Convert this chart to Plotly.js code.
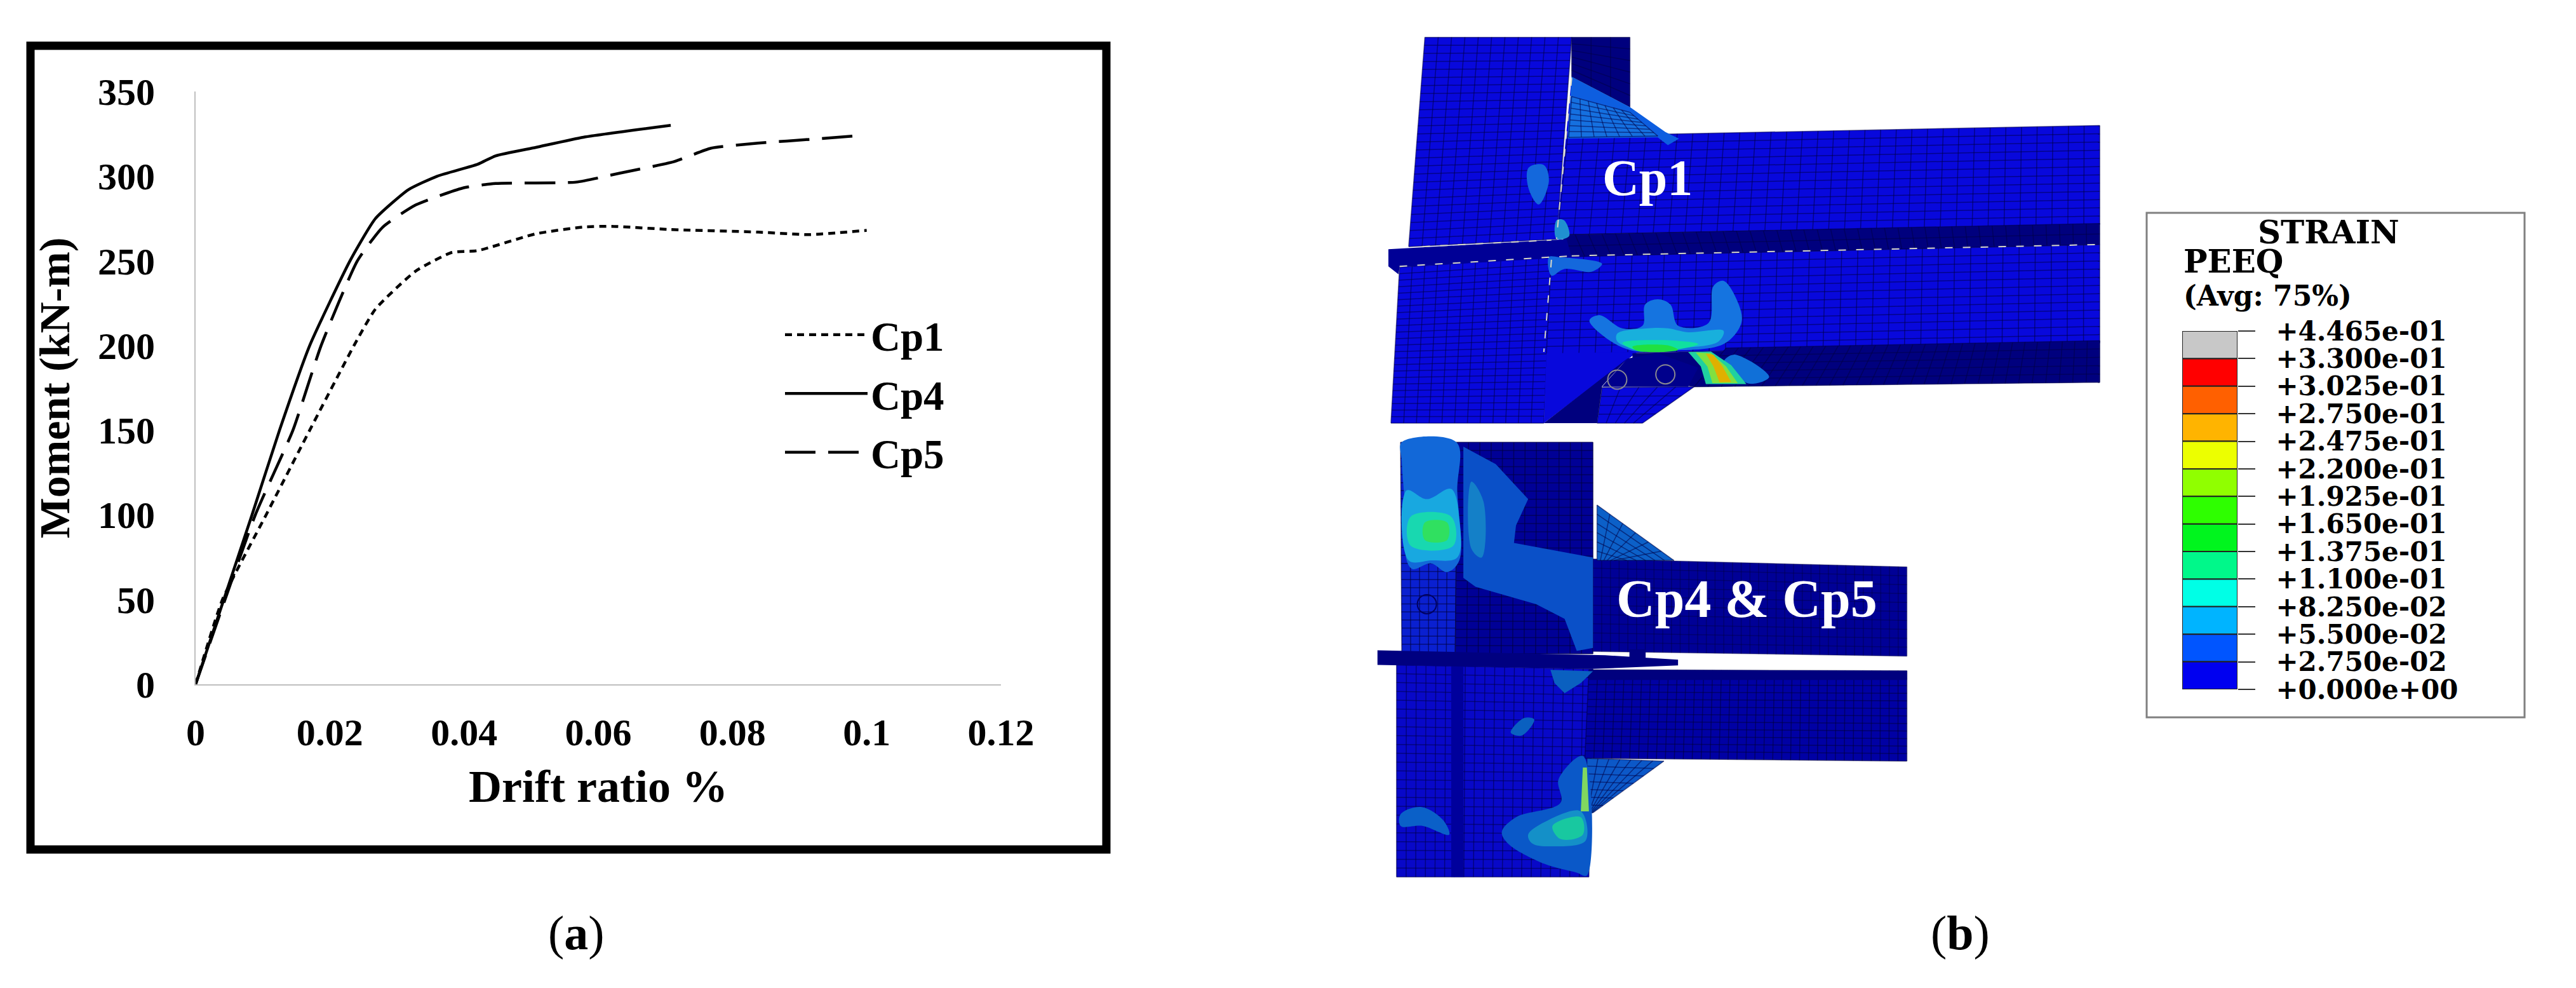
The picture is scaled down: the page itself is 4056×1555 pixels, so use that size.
<!DOCTYPE html>
<html>
<head>
<meta charset="utf-8">
<script src="https://cdn.plot.ly/plotly-3.0.1.min.js"></script>
<style>html,body{margin:0;padding:0;background:#fff}</style>
</head>
<body>
<div id="plot" style="width:4056px;height:1555px"></div>
<script>
// page size
const W = 4056, H = 1555;
const serif = "Liberation Serif";
const slab = "DejaVu Serif";

// (a) moment vs drift ratio
const cp1X = [0, 0.004, 0.0105, 0.017, 0.0236, 0.0268, 0.0328, 0.0382, 0.042, 0.0507, 0.0578, 0.062, 0.0708, 0.0838, 0.0914, 0.1];
const cp1Y = [0, 50, 100, 150, 200, 221.6, 244, 255, 256, 266, 270, 270.4, 268.5, 267, 265.5, 268];
const cp4X = [0, 0.0084, 0.0125, 0.017, 0.023, 0.0268, 0.0317, 0.036, 0.042, 0.0447, 0.0507, 0.0578, 0.0708];
const cp4Y = [0, 100, 150, 200, 250, 275, 292, 300, 307, 312, 317, 323, 330];
const cp5X = [0, 0.0089, 0.0145, 0.0187, 0.0241, 0.0279, 0.0328, 0.0398, 0.0447, 0.0567, 0.063, 0.0713, 0.0768, 0.0838, 0.0925, 0.099];
const cp5Y = [0, 100, 150, 200, 250, 270, 283, 293, 295.7, 296.5, 301.6, 308.6, 316.5, 319.5, 322, 324];

// (b) contour legend, top to bottom
const peeqLabels = ["+4.465e-01", "+3.300e-01", "+3.025e-01", "+2.750e-01", "+2.475e-01", "+2.200e-01", "+1.925e-01",
  "+1.650e-01", "+1.375e-01", "+1.100e-01", "+8.250e-02", "+5.500e-02", "+2.750e-02", "+0.000e+00"];
const peeqColors = ["#c8c8c8", "#ff0000", "#ff6000", "#ffb400", "#ecff00", "#90ff00", "#2eff00",
  "#00f51e", "#00f88a", "#00ffe6", "#00b4ff", "#0055ff", "#0000f0"];

const traces = [];

function curve(name, x, y, dash) {
  traces.push({
    type: "scatter", mode: "lines", name: name, x: x, y: y, legendgroup: name,
    line: { color: "#000", width: 4.5, dash: dash, shape: "spline", smoothing: 0.5 },
    hoverinfo: "skip"
  });
}
curve("Cp1", cp1X, cp1Y, "11px,8px");
curve("Cp4", cp4X, cp4Y, "solid");
curve("Cp5", cp5X, cp5Y, "48px,20px");

// the two FE pictures were measured on crops, these turn crop points into page pixels
const T = p => [2100 + p[0] * 0.7972, 40 + p[1] * 0.4145];
const B = p => [2100 + p[0] * 0.6378, 680 + p[1] * 0.4592];

function blob(f, pts, color, smooth) {
  const q = pts.map(f);
  traces.push({
    type: "scatter", mode: "lines", xaxis: "x2", yaxis: "y2", showlegend: false, hoverinfo: "skip",
    x: q.map(p => p[0]).concat(q[0][0]), y: q.map(p => p[1]).concat(q[0][1]),
    fill: "toself", fillcolor: color,
    line: { width: 0, color: color, shape: smooth ? "spline" : "linear" }
  });
}
// quad with a mesh drawn over it: corners TL, TR, BR, BL
function quad(f, c, color, nu, nv, meshColor) {
  blob(f, c, color);
  const q = c.map(f);
  const lerp = (a, b, t) => [a[0] + (b[0] - a[0]) * t, a[1] + (b[1] - a[1]) * t];
  const xs = [], ys = [];
  for (let i = 0; i <= nu; i++) {
    const a = lerp(q[0], q[1], i / nu), b = lerp(q[3], q[2], i / nu);
    xs.push(a[0], b[0], null); ys.push(a[1], b[1], null);
  }
  for (let j = 0; j <= nv; j++) {
    const a = lerp(q[0], q[3], j / nv), b = lerp(q[1], q[2], j / nv);
    xs.push(a[0], b[0], null); ys.push(a[1], b[1], null);
  }
  traces.push({
    type: "scatter", mode: "lines", xaxis: "x2", yaxis: "y2", showlegend: false, hoverinfo: "skip",
    x: xs, y: ys, line: { color: meshColor || "rgba(0,0,70,0.55)", width: 1.5 }
  });
}
function seam(f, pts) {
  const q = pts.map(f);
  traces.push({
    type: "scatter", mode: "lines", xaxis: "x2", yaxis: "y2", showlegend: false, hoverinfo: "skip",
    x: q.map(p => p[0]), y: q.map(p => p[1]),
    line: { color: "#d8d8c8", width: 2, dash: "12px,16px" }
  });
}
function holes(f, pts, size, color) {
  const q = pts.map(f);
  traces.push({
    type: "scatter", mode: "markers", xaxis: "x2", yaxis: "y2", showlegend: false, hoverinfo: "skip",
    x: q.map(p => p[0]), y: q.map(p => p[1]),
    marker: { symbol: "circle-open", size: size, color: color, line: { width: 2, color: color } }
  });
}
const web = "#0808dc", navy = "#00007e", deep = "#000096", pale = "#1468dc";

// Cp1 joint
quad(T, [[180, 45], [470, 45], [440, 812], [148, 840]], web, 11, 26);
quad(T, [[470, 45], [585, 45], [585, 310], [470, 195]], navy, 3, 6);
blob(T, [[470, 195], [470, 430], [445, 800], [440, 800]], web);
quad(T, [[462, 420], [1513, 380], [1513, 755], [442, 795]], web, 34, 12);
blob(T, [[470, 195], [585, 310], [655, 405], [682, 430], [660, 455], [640, 425], [462, 430]], "#0d5ee0");
quad(T, [[470, 270], [585, 330], [640, 420], [464, 425]], "#1570e0", 7, 7);
quad(T, [[450, 795], [1513, 752], [1513, 832], [470, 880]], navy, 40, 2);
quad(T, [[130, 918], [430, 880], [415, 1510], [113, 1510]], web, 12, 24);
quad(T, [[430, 880], [1513, 832], [1513, 1205], [420, 1250]], web, 34, 12);
blob(T, [[420, 1245], [600, 1240], [415, 1510]], web);
blob(T, [[590, 1245], [1513, 1197], [1513, 1355], [712, 1372], [590, 1340]], navy);
quad(T, [[775, 1225], [1513, 1197], [1513, 1355], [712, 1372]], navy, 30, 5);
blob(T, [[415, 1510], [580, 1265], [530, 1370], [520, 1510]], navy);
quad(T, [[530, 1375], [712, 1372], [610, 1510], [520, 1510]], web, 5, 4);
blob(T, [[580, 1265], [640, 1245], [720, 1300], [700, 1372], [530, 1372]], "#00008c");
blob(T, [[108, 850], [460, 812], [470, 880], [130, 918], [128, 945], [108, 915]], deep);
blob(T, [[385, 540], [415, 530], [425, 590], [405, 680], [385, 620]], pale, true);
blob(T, [[440, 740], [455, 740], [465, 800], [440, 810]], "#2090d0", true);
blob(T, [[425, 880], [445, 880], [530, 905], [510, 935], [455, 925], [430, 950]], pale, true);
blob(T, [[505, 1120], [525, 1100], [570, 1150], [610, 1140], [615, 1060], [640, 1040], [665, 1060], [680, 1140], [740, 1130],
  [750, 990], [770, 970], [800, 1060], [805, 1130], [770, 1210], [650, 1235], [590, 1235], [540, 1190]], "#1574e0", true);
blob(T, [[560, 1170], [620, 1150], [660, 1150], [700, 1165], [770, 1160], [760, 1200], [680, 1225], [600, 1228], [560, 1200]], "#18b0dc", true);
blob(T, [[570, 1205], [650, 1195], [720, 1210], [680, 1230], [595, 1232]], "#10e0a0", true);
blob(T, [[590, 1220], [660, 1215], [680, 1232], [600, 1236]], "#20e040", true);
blob(T, [[790, 1250], [860, 1335], [820, 1360], [770, 1280]], "#1070d8", true);
blob(T, [[700, 1240], [745, 1238], [785, 1290], [815, 1362], [735, 1362], [725, 1295]], "#20d0a0");
blob(T, [[715, 1242], [745, 1244], [775, 1295], [798, 1358], [748, 1358], [738, 1295]], "#80e040");
blob(T, [[735, 1246], [750, 1250], [768, 1295], [785, 1354], [762, 1355], [750, 1295]], "#e0b000");
holes(T, [[560, 1345], [655, 1325]], 30, "#8a8a90");
seam(T, [[470, 200], [440, 810]]);
seam(T, [[175, 840], [430, 815]]);
seam(T, [[130, 915], [470, 875]]);
seam(T, [[470, 875], [1513, 832]]);
seam(T, [[430, 890], [415, 1240]]);

// Cp4 & Cp5 joint
quad(B, [[165, 35], [305, 35], [300, 755], [168, 755]], "#0a20d0", 6, 26, "rgba(0,0,60,0.6)");
quad(B, [[305, 35], [640, 35], [640, 760], [300, 760]], deep, 12, 26, "rgba(0,0,60,0.6)");
quad(B, [[640, 435], [1415, 462], [1415, 768], [640, 752]], deep, 36, 10, "rgba(0,0,60,0.4)");
quad(B, [[650, 250], [840, 440], [700, 440], [650, 440]], "#0c60c8", 6, 6);
quad(B, [[155, 798], [640, 812], [630, 1525], [155, 1525]], "#0808c8", 20, 24);
blob(B, [[290, 798], [320, 800], [320, 1525], [290, 1525]], "#00009c");
quad(B, [[630, 815], [1415, 818], [1415, 1128], [620, 1118]], "#0000a4", 36, 12, "rgba(0,0,50,0.5)");
blob(B, [[630, 815], [1415, 818], [1415, 850], [630, 850]], navy);
quad(B, [[625, 1118], [815, 1128], [640, 1305], [625, 1305]], "#0c58c8", 7, 7);
blob(B, [[168, 35], [303, 35], [305, 200], [310, 440], [280, 480], [240, 450], [195, 470], [180, 440], [178, 300], [168, 100]], "#1268d8", true);
blob(B, [[180, 200], [230, 230], [290, 195], [310, 300], [305, 430], [240, 440], [185, 440]], "#18a8e0", true);
blob(B, [[190, 290], [290, 290], [295, 390], [190, 390]], "#18d8b0", true);
blob(B, [[225, 310], [280, 310], [280, 370], [225, 370]], "#30e060", true);
blob(B, [[320, 50], [400, 110], [480, 230], [450, 320], [445, 380], [640, 430], [640, 740], [600, 750], [570, 640], [500, 590], [350, 530], [320, 500]], "#0a50c8");
blob(B, [[340, 170], [370, 240], [365, 430], [340, 400]], "#1480c8", true);
blob(B, [[535, 815], [640, 820], [610, 860], [570, 895], [545, 860]], "#0a60c0");
blob(B, [[470, 980], [495, 985], [465, 1040], [437, 1030]], "#0a60c0", true);
blob(B, [[165, 1310], [215, 1285], [270, 1330], [285, 1380], [220, 1350], [165, 1350]], "#0a60c8", true);
blob(B, [[415, 1370], [450, 1320], [560, 1270], [555, 1190], [615, 1110], [625, 1520], [600, 1510], [520, 1480], [430, 1410]], "#0a58c8", true);
blob(B, [[480, 1380], [530, 1330], [610, 1300], [622, 1400], [540, 1420], [490, 1410]], "#1490c8", true);
blob(B, [[540, 1350], [610, 1320], [615, 1380], [560, 1395]], "#18c8a0", true);
blob(B, [[615, 1150], [625, 1150], [630, 1300], [610, 1300]], "#80d860");
blob(B, [[108, 748], [670, 765], [850, 780], [850, 800], [640, 812], [108, 798]], "#000080");
blob(B, [[730, 745], [770, 745], [770, 775], [730, 775]], "#000080");
holes(B, [[230, 590]], 30, "#000060");

// legend strip: one bar per band, on its own axis so the ticks are real
traces.push({
  type: "bar", xaxis: "x3", yaxis: "y3", showlegend: false, hoverinfo: "skip",
  x: peeqColors.map(() => 0), y: peeqColors.map(() => 1), width: 1,
  base: peeqColors.map((c, i) => peeqLabels.length - 2 - i),
  marker: { color: peeqColors, line: { color: "#222", width: 2 } }
});

const layout = {
  width: W, height: H,
  margin: { l: 0, r: 0, t: 0, b: 0 },
  paper_bgcolor: "#fff", plot_bgcolor: "rgba(0,0,0,0)",
  barmode: "overlay",
  font: { family: serif, color: "#000" },
  xaxis: {
    domain: [308 / W, 1576 / W], anchor: "y", range: [0, 0.12], tick0: 0, dtick: 0.02,
    showgrid: false, zeroline: false, showline: true, linecolor: "#bfbfbf", linewidth: 2, ticks: "",
    ticklabelstandoff: 22, tickfont: { family: serif, size: 60, weight: "bold" },
    title: { text: "<b>Drift ratio %</b>", font: { family: serif, size: 72 }, standoff: 27 }
  },
  yaxis: {
    domain: [1 - 1077 / H, 1 - 144 / H], anchor: "x", range: [0, 350], tick0: 0, dtick: 50,
    showgrid: false, zeroline: false, showline: true, linecolor: "#bfbfbf", linewidth: 2, ticks: "",
    ticklabelstandoff: 50, tickfont: { family: serif, size: 60, weight: "bold" },
    title: { text: "<b>Moment (kN-m)</b>", font: { family: serif, size: 68 }, standoff: 22 }
  },
  xaxis2: { domain: [0, 1], anchor: "y2", range: [0, W], visible: false, fixedrange: true },
  yaxis2: { domain: [0, 1], anchor: "x2", range: [H, 0], visible: false, fixedrange: true },
  xaxis3: { domain: [3436 / W, 3523 / W], anchor: "y3", range: [-0.5, 0.5], visible: false, fixedrange: true },
  yaxis3: {
    domain: [1 - 1085 / H, 1 - 521 / H], anchor: "x3", side: "right", range: [0, 13],
    tickvals: peeqLabels.map((l, i) => peeqLabels.length - 1 - i), ticktext: peeqLabels,
    showgrid: false, zeroline: false, showline: false, ticks: "outside", ticklen: 27, tickwidth: 2, tickcolor: "#333",
    ticklabelstandoff: 24, tickfont: { family: slab, size: 42, weight: "bold" }, fixedrange: true
  },
  legend: {
    x: 1231 / W, y: 1 - 478 / H, xanchor: "left", yanchor: "top", bgcolor: "rgba(0,0,0,0)",
    itemwidth: 130, traceorder: "grouped", tracegroupgap: 5,
    font: { family: serif, size: 65, weight: "bold" }
  },
  shapes: [
    { type: "rect", xref: "paper", yref: "paper", x0: 48 / W, x1: 1742 / W, y0: 1 - 72 / H, y1: 1 - 1337 / H,
      line: { color: "#000", width: 13 }, layer: "below" },
    { type: "rect", xref: "x2", yref: "y2", x0: 3380, x1: 3975, y0: 335, y1: 1129,
      line: { color: "#808080", width: 3 }, layer: "below" }
  ],
  annotations: [
    { xref: "paper", yref: "paper", x: 907 / W, y: 1 - 1468 / H, xanchor: "center", yanchor: "middle", text: "(<b>a</b>)", showarrow: false,
      font: { family: serif, size: 76 } },
    { xref: "paper", yref: "paper", x: 3086 / W, y: 1 - 1468 / H, xanchor: "center", yanchor: "middle", text: "(<b>b</b>)", showarrow: false,
      font: { family: serif, size: 76 } },
    { xref: "x2", yref: "y2", x: 2594, y: 280, text: "<b>Cp1</b>", showarrow: false,
      font: { family: serif, size: 80, color: "#fff" } },
    { xref: "x2", yref: "y2", x: 2750, y: 942, text: "<b>Cp4 &amp; Cp5</b>", showarrow: false,
      font: { family: serif, size: 84, color: "#fff" } },
    { xref: "x2", yref: "y2", x: 3666, y: 365, text: "<b>STRAIN</b>", showarrow: false,
      font: { family: slab, size: 50 } },
    { xref: "x2", yref: "y2", x: 3436, y: 411, xanchor: "left", text: "<b>PEEQ</b>", showarrow: false,
      font: { family: slab, size: 50 } },
    { xref: "x2", yref: "y2", x: 3436, y: 465, xanchor: "left", text: "<b>(Avg: 75%)</b>", showarrow: false,
      font: { family: slab, size: 44 } }
  ]
};

Plotly.newPlot("plot", traces, layout, { displayModeBar: false, staticPlot: true });
</script>
</body>
</html>
